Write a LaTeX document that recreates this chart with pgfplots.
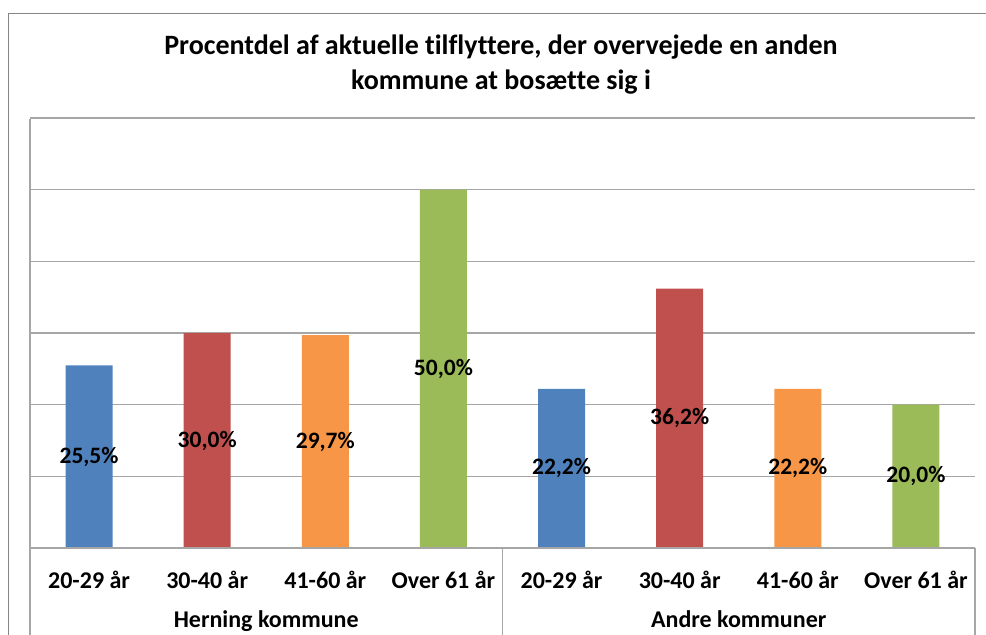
\documentclass[border=0pt]{standalone}
\usepackage{pgfplots}
\pgfplotsset{compat=1.18}
\usepackage{fontspec}
\setmainfont[Ligatures=NoCommon]{Carlito}
\definecolor{cblue}{HTML}{4F81BD}
\definecolor{cred}{HTML}{C0504D}
\definecolor{corange}{HTML}{F79646}
\definecolor{cgreen}{HTML}{9BBB59}
\definecolor{frame}{HTML}{868686}
\definecolor{gridc}{HTML}{A6A6A6}
\begin{document}
\begin{tikzpicture}[x=1pt,y=1pt]
\useasboundingbox (0,0) rectangle (986,-635);
\draw[line width=1.6pt, color=frame] (8.5,-640) -- (8.5,-13.5) -- (990,-13.5);
\node[font=\bfseries\fontsize{28}{35}\selectfont, align=center] at (501,-65)
  {Procentdel af aktuelle tilflyttere, der overvejede en anden\\kommune at bosætte sig i};
\begin{axis}[
  at={(30pt,-548pt)}, anchor=south west,
  scale only axis, width=945pt, height=430pt,
  xmin=-0.5, xmax=7.5, ymin=0, ymax=60,
  ytick={10,20,30,40,50,60}, yticklabels={},
  ymajorgrids, grid style={gridc, line width=1.2pt},
  axis line style={draw=none},
  major tick style={draw=none},
  xtick={0,1,2,3,4,5,6,7},
  xticklabels={20-29 år,30-40 år,41-60 år,Over 61 år,20-29 år,30-40 år,41-60 år,Over 61 år},
  xticklabel style={anchor=base, yshift=-36pt, font=\bfseries\fontsize{24}{28}\selectfont},
  /pgf/number format/assume math mode=true,
  ybar, bar width=47pt, bar shift=0pt,
  nodes near coords={\pgfmathprintnumber[fixed,fixed zerofill,precision=1,use comma]{\pgfplotspointmeta}\%},
  visualization depends on={rawy \as \rawy},
  every node near coord/.append style={anchor=center, font=\bfseries\fontsize{23.5}{27}\selectfont, shift={(0pt,{-\rawy*3.583333pt})}},
  clip=false,
]
\addplot[fill=cblue, draw=none] coordinates {(0,25.5) (4,22.2)};
\addplot[fill=cred, draw=none] coordinates {(1,30.0) (5,36.2)};
\addplot[fill=corange, draw=none] coordinates {(2,29.7) (6,22.2)};
\addplot[fill=cgreen, draw=none] coordinates {(3,50.0) (7,20.0)};
\end{axis}
\draw[gridc, line width=1.2pt] (30,-548) -- (975,-548);
\draw[gridc, line width=1.2pt] (30,-119) -- (30,-640);
\draw[gridc, line width=1.2pt] (502.5,-548) -- (502.5,-640);
\draw[gridc, line width=1.2pt] (975,-548) -- (975,-640);
\node[anchor=base, font=\bfseries\fontsize{24}{28}\selectfont] at (266.25,-627) {Herning kommune};
\node[anchor=base, font=\bfseries\fontsize{24}{28}\selectfont] at (738.75,-627) {Andre kommuner};
\end{tikzpicture}
\end{document}
